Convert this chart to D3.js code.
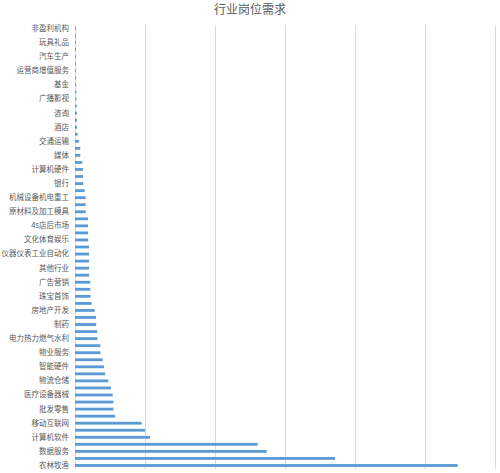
<!DOCTYPE html>
<html>
<head>
<meta charset="utf-8">
<script src="https://cdn.jsdelivr.net/npm/d3@7"></script>
<style>
  body { margin: 0; background: #fff; }
  text { font-family: "Noto Sans CJK SC", "Noto Sans", sans-serif; }
</style>
</head>
<body>
<div id="chart"></div>
<script>
// category labels shown on the axis (every other bar, top to bottom)
var labels = ["非盈利机构", "玩具礼品", "汽车生产", "运营商增值服务", "基金", "广播影视",
    "咨询", "酒店", "交通运输", "媒体", "计算机硬件", "银行", "机械设备机电重工",
    "原材料及加工模具", "4s店后市场", "文化体育娱乐", "仪器仪表工业自动化", "其他行业",
    "广告营销", "珠宝首饰", "房地产开发", "制药", "电力热力燃气水利", "物业服务",
    "智能硬件", "物流仓储", "医疗设备器械", "批发零售", "移动互联网", "计算机软件",
    "数据服务", "农林牧渔"];

// demand per bar, top to bottom (63 bars)
var values = [7, 7, 7, 7, 7, 7, 7, 8, 8, 10,
    10, 12, 14, 14, 15, 19, 29, 38, 38, 52,
    57, 57, 59, 69, 76, 76, 77, 93, 93, 93,
    94, 100, 100, 100, 101, 101, 109, 110, 110, 119,
    141, 150, 151, 159, 160, 181, 182, 198, 207, 216,
    238, 257, 269, 274, 275, 286, 476, 500, 536, 1305,
    1369, 1857, 2734];

var xTicks = [0, 500, 1000, 1500, 2000, 2500, 3000];

var margin = {top: 25, right: 5, bottom: 4, left: 75},
    width = 500 - margin.left - margin.right,
    height = 473 - margin.top - margin.bottom;

var svg = d3.select("#chart").append("svg")
    .attr("width", 500)
    .attr("height", 473);

svg.append("text")
    .attr("x", 250)
    .attr("y", 13.5)
    .attr("text-anchor", "middle")
    .style("font-size", "12px")
    .style("fill", "#595959")
    .text("行业岗位需求");

var g = svg.append("g")
    .attr("transform", "translate(" + margin.left + "," + margin.top + ")");

var x = d3.scaleLinear()
    .domain([0, 3000])
    .range([0, width]);

var y = d3.scaleBand()
    .domain(d3.range(values.length))
    .range([0, height])
    .paddingInner(0.6)
    .paddingOuter(0.3);

// gridlines
g.selectAll(".grid")
    .data(xTicks)
  .enter().append("line")
    .attr("class", "grid")
    .attr("x1", function(d) { return x(d) + 0.5; })
    .attr("x2", function(d) { return x(d) + 0.5; })
    .attr("y1", 0)
    .attr("y2", height)
    .style("stroke", "#d9d9d9")
    .style("stroke-width", 1);

g.selectAll(".bar")
    .data(values)
  .enter().append("rect")
    .attr("class", "bar")
    .attr("x", x(0))
    .attr("y", function(d, i) { return y(i); })
    .attr("width", function(d) { return x(d) - x(0); })
    .attr("height", y.bandwidth())
    .style("fill", "#5b9bd5");

var yAxis = d3.axisLeft(y)
    .tickValues(d3.range(0, values.length, 2))
    .tickFormat(function(i) { return labels[i / 2]; })
    .tickSize(0)
    .tickPadding(6);

var ya = g.append("g").call(yAxis);
ya.select(".domain").remove();
ya.selectAll("text")
    .style("font-size", "7.5px")
    .style("fill", "#595959");
</script>
</body>
</html>
